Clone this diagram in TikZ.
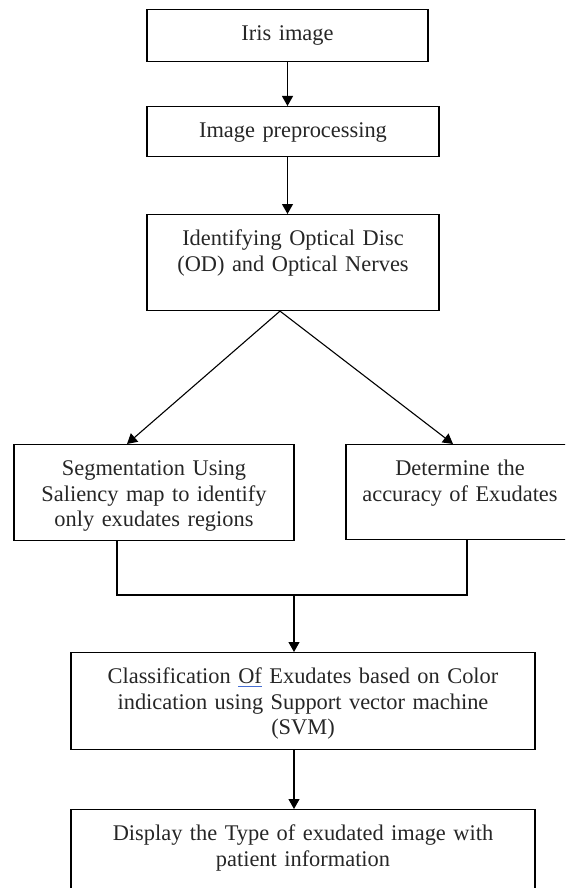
\documentclass[tikz,border=0pt]{standalone}
\usepackage{fontspec}
\setmainfont{Liberation Serif}
\usetikzlibrary{arrows.meta,positioning,calc}
\definecolor{markblue}{RGB}{70,110,210}

% spell-check mark under a word
\newlength\marklen
\newcommand{\markedword}[1]{\settowidth{\marklen}{#1}%
  \rlap{\textcolor{markblue}{\rule[-3.5pt]{\marklen}{1.2pt}}}#1}

\tikzset{
  stagebox/.style={draw, line width=1.1pt, anchor=north, align=center,
    inner xsep=4pt, inner ysep=0pt, text height=31pt, text=black!85,
    font=\fontsize{22.4}{25.5}\selectfont},
  flowarrow/.style={line width=1.1pt, -{Triangle[length=10pt,width=11pt]}},
  flowline/.style={line width=1.1pt}
}

\begin{document}
\begin{tikzpicture}[x=1pt,y=-1pt]
  \useasboundingbox (0,0) rectangle (565,888);
  \clip (0,0) rectangle (565,888);

  % stages
  \node[stagebox, text width=273pt, text depth=21pt] (iris) at (287.5,9) {Iris image};
  \node[stagebox, text width=284pt, text depth=19pt] (prep) at (293,106) {Image preprocessing};
  \node[stagebox, text width=284pt, text depth=65pt] (ident) at (293,214)
    {Identifying Optical Disc\\(OD) and Optical Nerves};
  \node[stagebox, text width=272pt, text depth=65pt] (seg) at (154,444)
    {Segmentation Using\\Saliency map to identify\\only exudates regions};
  \node[stagebox, text width=220pt, text depth=64pt] (acc) at (460,444)
    {Determine the\\accuracy of Exudates};
  \node[stagebox, text width=456pt, text depth=66pt] (class) at (303,652)
    {Classification \markedword{Of} Exudates based on Color\\indication using Support vector machine\\(SVM)};
  \node[stagebox, text width=456pt, text depth=100pt] (disp) at (303,809)
    {Display the Type of exudated image with\\patient information};

  % connectors
  \draw[flowarrow] (iris.south) -- (iris.south |- prep.north);
  \draw[flowarrow] (iris.south |- prep.south) -- (iris.south |- ident.north);
  \coordinate (fork) at ([xshift=-13pt]ident.south);
  \draw[flowarrow] (fork) -- ([xshift=-27pt]seg.north);
  \draw[flowarrow] (fork) -- ([xshift=-7pt]acc.north);
  \coordinate (join) at (294,595);
  \draw[flowline] ([xshift=-37pt]seg.south) |- (join) -| ([xshift=7pt]acc.south);
  \draw[flowarrow] (join) -- (join |- class.north);
  \draw[flowarrow] (join |- class.south) -- (join |- disp.north);
\end{tikzpicture}
\end{document}
